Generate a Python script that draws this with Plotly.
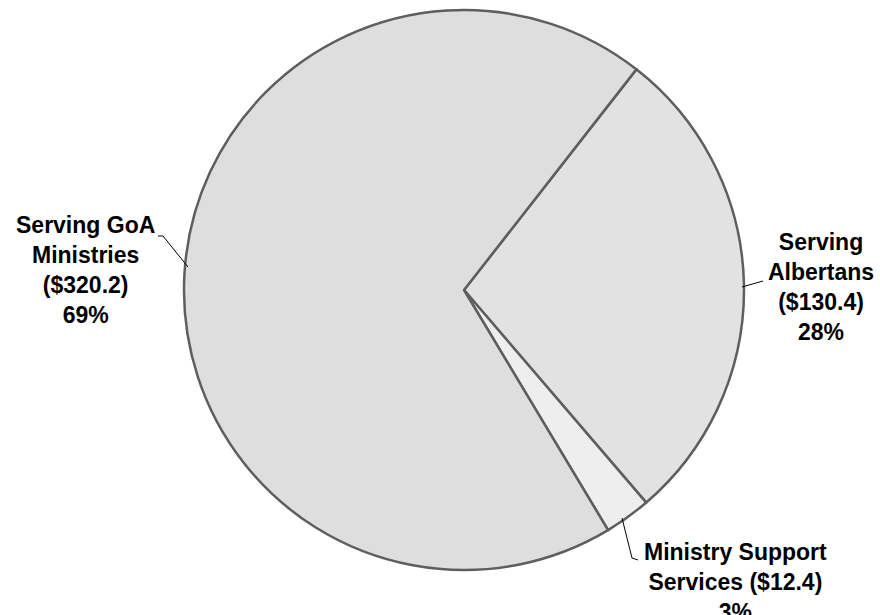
import plotly.graph_objects as go

labels = ["Serving Albertans", "Ministry Support Services", "Serving GoA Ministries"]
values = [130.4, 12.4, 320.2]
label_texts = [
    "<b>Serving<br>Albertans<br>($130.4)<br>28%</b>",
    "<b>Ministry Support<br>Services ($12.4)<br>3%</b>",
    "<b>Serving GoA<br>Ministries<br>($320.2)<br>69%</b>",
]

W, H = 880, 615
def px(x): return x / W
def py(y): return 1 - y / H

cx, cy, r = 464, 290, 280

fig = go.Figure()
fig.add_trace(go.Pie(
    labels=labels, values=values, sort=False, direction="clockwise", rotation=38,
    textinfo="none", hoverinfo="label+value+percent",
    marker=dict(colors=["#e2e2e2", "#eeeeee", "#dedede"], line=dict(color="#5e5e5e", width=2.5)),
    domain=dict(x=[px(cx - r), px(cx + r)], y=[py(cy + r), py(cy - r)]),
    showlegend=False,
))

ann_pos = [(821, 287), (735, 582), (85, 270)]
for t, (x, y) in zip(label_texts, ann_pos):
    fig.add_annotation(x=px(x), y=py(y), xref="paper", yref="paper", text=t, showarrow=False,
                       font=dict(family="Liberation Sans, Arial", size=23, color="black"),
                       align="center", xanchor="center", yanchor="middle")

leaders = [
    [(742, 287), (763, 281)],
    [(622, 518), (632, 558), (638, 560)],
    [(188, 267), (163, 236), (158, 236)],
]
for pts in leaders:
    path = "M " + " L ".join(f"{px(x)},{py(y)}" for x, y in pts)
    fig.add_shape(type="path", path=path, xref="paper", yref="paper",
                  line=dict(color="black", width=1))

fig.update_layout(width=W, height=H, margin=dict(l=0, r=0, t=0, b=0),
                  paper_bgcolor="white", plot_bgcolor="white")
fig.write_html("out.html")
